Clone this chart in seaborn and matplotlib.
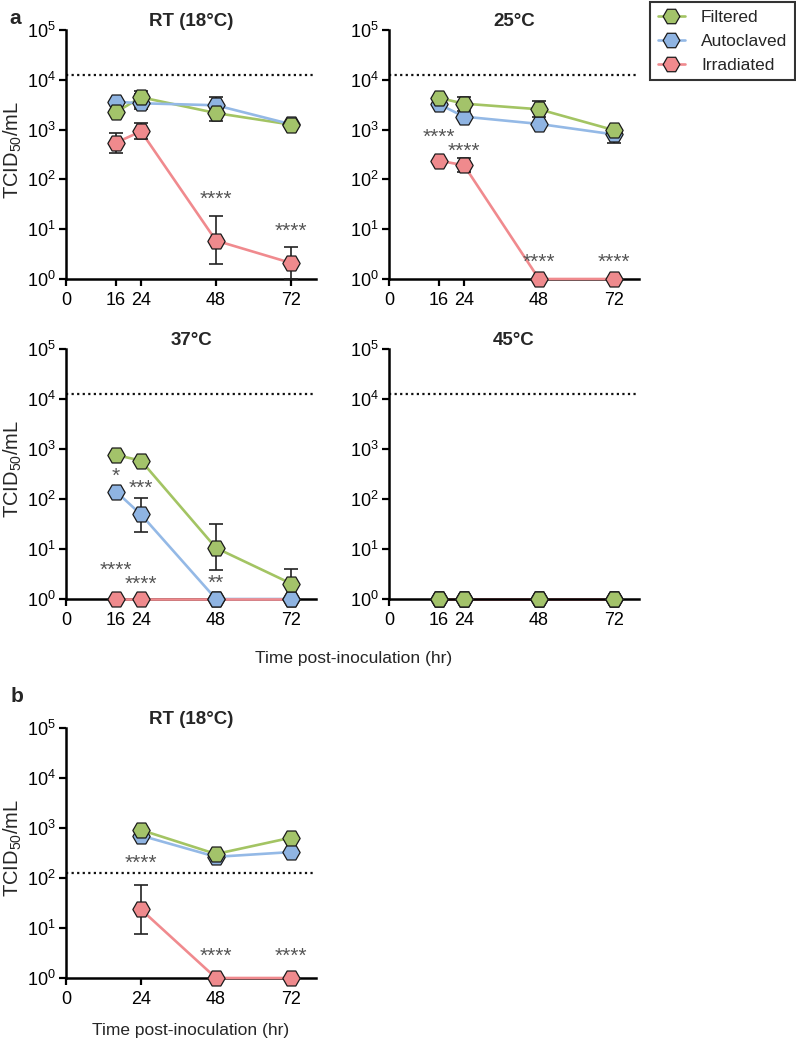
import numpy as np
import pandas as pd
import matplotlib
matplotlib.use("Agg")
import matplotlib.pyplot as plt
import seaborn as sns
from matplotlib.ticker import NullLocator, LogFormatterMathtext, FixedLocator
from matplotlib.lines import Line2D

sns.set_theme(style="ticks")
plt.rcParams['font.family'] = ['Liberation Sans', 'DejaVu Sans']
plt.rcParams['mathtext.fontset'] = 'custom'
plt.rcParams['mathtext.rm'] = 'Liberation Sans'
plt.rcParams['mathtext.it'] = 'Liberation Sans:italic'
plt.rcParams['mathtext.bf'] = 'Liberation Sans:bold'

# ---------------- data ----------------
series = ["Filtered", "Autoclaved", "Irradiated"]
times_a = [16, 24, 48, 72]
times_b = [24, 48, 72]
xticks_a = [0, 16, 24, 48, 72]
xticks_b = [0, 24, 48, 72]
yticks = [1, 10, 100, 1000, 10000, 100000]

# RT (18C)
rt_filtered = [2240, 4460, 2150, 1260]
rt_autoclaved = [3630, 3380, 3080, 1280]
rt_irradiated = [545, 925, 5.9, 2.1]
rt_filtered_lo = [np.nan, 2900, 1510, np.nan]
rt_filtered_hi = [np.nan, 5960, 2900, np.nan]
rt_autoclaved_lo = [np.nan, 2560, 2300, np.nan]
rt_autoclaved_hi = [np.nan, 5300, 4570, np.nan]
rt_irradiated_lo = [345, 640, 1.97, 1.0]
rt_irradiated_hi = [870, 1330, 18.4, 4.35]

# 25C
t25_filtered = [4330, 3320, 2560, 975]
t25_autoclaved = [3240, 1820, 1300, 800]
t25_irradiated = [238, 192, 1, 1]
t25_filtered_lo = [np.nan, 2400, 1820, np.nan]
t25_filtered_hi = [np.nan, 4600, 3740, np.nan]
t25_autoclaved_lo = [np.nan, np.nan, np.nan, 550]
t25_autoclaved_hi = [np.nan, np.nan, np.nan, 900]
t25_irradiated_lo = [np.nan, 140, np.nan, np.nan]
t25_irradiated_hi = [np.nan, 268, np.nan, np.nan]

# 37C
t37_filtered = [760, 585, 10.5, 2.04]
t37_autoclaved = [141, 49, 1, 1]
t37_irradiated = [1, 1, 1, 1]
t37_filtered_lo = [np.nan, np.nan, 3.76, 1.0]
t37_filtered_hi = [np.nan, np.nan, 31, 4.06]
t37_autoclaved_lo = [np.nan, 22, np.nan, np.nan]
t37_autoclaved_hi = [np.nan, 106, np.nan, np.nan]

# 45C
t45_filtered = [1, 1, 1, 1]
t45_autoclaved = [1, 1, 1, 1]
t45_irradiated = [1, 1, 1, 1]

# b: RT (18C)
b_filtered = [912, 302, 640]
b_autoclaved = [705, 265, 330]
b_irradiated = [23.5, 1, 1]
b_irradiated_lo = [7.5, np.nan, np.nan]
b_irradiated_hi = [72, np.nan, np.nan]

lod_a = 12600
lod_b = 126

# significance annotations: (x, y, text)
stars_rt = [(48, 40, "****"), (72, 9.2, "****")]
stars_25 = [(16, 690, "****"), (24, 360, "****"), (48, 2.2, "****"), (72, 2.2, "****")]
stars_37 = [(16, 288, "*"), (24, 166, "***"), (16, 3.76, "****"), (24, 1.96, "****"), (48, 2.1, "**")]
stars_45 = []
stars_b = [(24, 200, "****"), (48, 2.7, "****"), (72, 2.7, "****")]

# ---------------- style ----------------
marker_colors = {"Filtered": "#a3c36a", "Autoclaved": "#8fb4e2", "Irradiated": "#ef8a8d"}
line_colors = {"Filtered": "#a3c463", "Autoclaved": "#94b9e6", "Irradiated": "#f08a8e"}
W, H = 796, 1041
fig = plt.figure(figsize=(W / 100, H / 100), dpi=100)


def px_axes(left, top, right, bottom):
    return fig.add_axes([left / W, 1 - bottom / H, (right - left) / W, (bottom - top) / H])


def panel(ax, times, vals, errs, stars, title, lod, xticks, ylabel=True, title_pad=1.5,
          lines_over_axis=True):
    rows = []
    for s in series:
        for t, v in zip(times, vals[s]):
            rows.append({"time": t, "value": v, "series": s})
    df = pd.DataFrame(rows)
    sns.lineplot(data=df, x="time", y="value", hue="series", hue_order=series,
                 palette=line_colors, ax=ax, legend=False, linewidth=1.9,
                 estimator=None, errorbar=None, zorder=2)
    for ln in ax.lines:
        ln.set_clip_on(False)
    for s in series:
        if s in errs:
            lo, hi = errs[s]
            v = np.array(vals[s], float)
            lo = np.array(lo, float)
            hi = np.array(hi, float)
            m = ~np.isnan(lo)
            ax.errorbar(np.array(times)[m], v[m], yerr=[v[m] - lo[m], hi[m] - v[m]],
                        fmt="none", ecolor="#222222", elinewidth=1.2, capsize=5,
                        capthick=1.2, zorder=3, clip_on=False)
    for i, s in enumerate(reversed(series)):
        sub = df[df.series == s]
        sns.scatterplot(data=sub, x="time", y="value", ax=ax, marker="H", s=155,
                        color=marker_colors[s], edgecolor="#1a1a1a", linewidth=0.9,
                        legend=False, zorder=4 + i, clip_on=False)
    ax.axhline(lod, color="#111111", linestyle=(0, (1, 1.5)), linewidth=1.6, zorder=1)
    for x, y, t in stars:
        ax.text(x, y, t, ha="center", va="center", fontsize=15, color="#555555", zorder=6)
    ax.set_yscale("log")
    ax.set_ylim(1, 1e5)
    ax.set_xlim(0, 80)
    ax.yaxis.set_major_locator(FixedLocator(yticks))
    ax.yaxis.set_minor_locator(NullLocator())
    ax.yaxis.set_major_formatter(LogFormatterMathtext())
    ax.set_xticks(xticks)
    ax.set_xticklabels([str(x) for x in xticks])
    for sp in ["top", "right"]:
        ax.spines[sp].set_visible(False)
    for sp in ["left", "bottom"]:
        ax.spines[sp].set_linewidth(1.8)
        ax.spines[sp].set_color("black")
        ax.spines[sp].set_zorder(1.5 if lines_over_axis else 2.5)
    ax.tick_params(axis="both", direction="out", length=5, width=1.6, labelsize=13,
                   colors="black")
    ax.tick_params(axis="x", pad=4.5)
    ax.tick_params(axis="y", pad=2.5)
    ax.set_xlabel("")
    if ylabel:
        ax.set_ylabel("TCID$_{50}$/mL", fontsize=14.5)
        ax.yaxis.set_label_coords(-0.168, 0.52)
    else:
        ax.set_ylabel("")
    ax.set_title(title, fontsize=13.5, fontweight="bold", pad=title_pad)
    ax.patch.set_alpha(0)


ax1 = px_axes(66, 30, 316, 279)
panel(ax1, times_a,
      {"Filtered": rt_filtered, "Autoclaved": rt_autoclaved, "Irradiated": rt_irradiated},
      {"Filtered": (rt_filtered_lo, rt_filtered_hi),
       "Autoclaved": (rt_autoclaved_lo, rt_autoclaved_hi),
       "Irradiated": (rt_irradiated_lo, rt_irradiated_hi)},
      stars_rt, "RT (18°C)", lod_a, xticks_a)

ax2 = px_axes(389, 30, 639, 279)
panel(ax2, times_a,
      {"Filtered": t25_filtered, "Autoclaved": t25_autoclaved, "Irradiated": t25_irradiated},
      {"Filtered": (t25_filtered_lo, t25_filtered_hi),
       "Autoclaved": (t25_autoclaved_lo, t25_autoclaved_hi),
       "Irradiated": (t25_irradiated_lo, t25_irradiated_hi)},
      stars_25, "25°C", lod_a, xticks_a, ylabel=False)

ax3 = px_axes(66, 349, 316, 599)
panel(ax3, times_a,
      {"Filtered": t37_filtered, "Autoclaved": t37_autoclaved, "Irradiated": t37_irradiated},
      {"Filtered": (t37_filtered_lo, t37_filtered_hi),
       "Autoclaved": (t37_autoclaved_lo, t37_autoclaved_hi)},
      stars_37, "37°C", lod_a, xticks_a)

ax4 = px_axes(389, 349, 639, 599)
panel(ax4, times_a,
      {"Filtered": t45_filtered, "Autoclaved": t45_autoclaved, "Irradiated": t45_irradiated},
      {}, stars_45, "45°C", lod_a, xticks_a, ylabel=False, lines_over_axis=False)

ax5 = px_axes(66, 728, 316, 978)
panel(ax5, times_b,
      {"Filtered": b_filtered, "Autoclaved": b_autoclaved, "Irradiated": b_irradiated},
      {"Irradiated": (b_irradiated_lo, b_irradiated_hi)},
      stars_b, "RT (18°C)", lod_b, xticks_b, title_pad=2.5)

fig.text(354 / W, 1 - 658 / H, "Time post-inoculation (hr)", ha="center", va="center", fontsize=12.5)
fig.text(191 / W, 1 - 1031 / H, "Time post-inoculation (hr)", ha="center", va="center", fontsize=12.5)

fig.text(9 / W, 1 - 18 / H, "a", ha="left", va="center", fontsize=15, fontweight="bold")
fig.text(11 / W, 1 - 697 / H, "b", ha="left", va="center", fontsize=15, fontweight="bold")

handles = [Line2D([0], [0], color=line_colors[s], lw=1.9, marker="H", markersize=12,
                  markerfacecolor=marker_colors[s], markeredgecolor="#1a1a1a",
                  markeredgewidth=0.9) for s in series]
leg = fig.legend(handles, series, loc="upper right", bbox_to_anchor=(795 / W, 1 - 2 / H),
                 frameon=True, fancybox=False, fontsize=12.5, handlelength=1.6,
                 handletextpad=0.9, labelspacing=0.5, borderpad=0.45, borderaxespad=0)
leg.get_frame().set_edgecolor("black")
leg.get_frame().set_linewidth(1.5)

fig.savefig("out.png", dpi=100)
